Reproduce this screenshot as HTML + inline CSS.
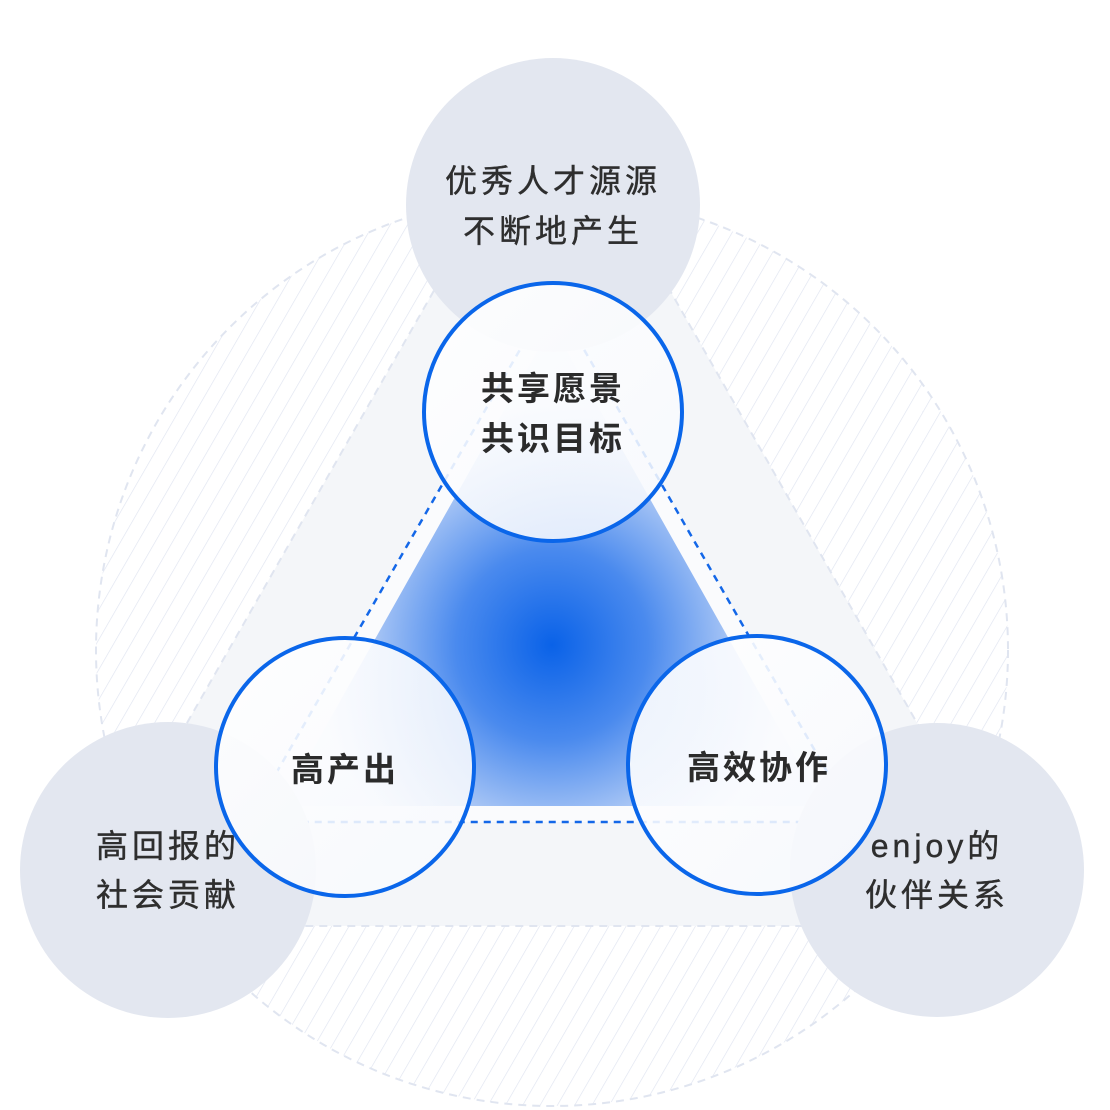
<!DOCTYPE html>
<html><head><meta charset="utf-8"><style>
html,body{margin:0;padding:0;background:#fff;}
svg{display:block}
text{font-family:"Liberation Sans","Noto Sans CJK SC",sans-serif;}
</style></head><body>
<svg width="1110" height="1110" viewBox="0 0 1110 1110" xmlns="http://www.w3.org/2000/svg">
<defs>
<pattern id="hatch" patternUnits="userSpaceOnUse" width="15" height="15" patternTransform="rotate(30)">
<line x1="0" y1="0" x2="0" y2="15" stroke="#dfe4f0" stroke-width="1.3"/>
</pattern>
<clipPath id="bigc"><circle cx="552" cy="650" r="456"/></clipPath>
<radialGradient id="blue" cx="552" cy="645" r="240" gradientUnits="userSpaceOnUse">
<stop offset="0" stop-color="#0a62e8"/>
<stop offset="0.4" stop-color="#4a8aee"/>
<stop offset="0.75" stop-color="#a9c6f5"/>
<stop offset="1" stop-color="#eef3fc"/>
</radialGradient>
<linearGradient id="cf" x1="0" y1="0" x2="1" y2="1">
<stop offset="0" stop-color="#ffffff" stop-opacity="0.92"/>
<stop offset="1" stop-color="#f7f9fd" stop-opacity="0.85"/>
</linearGradient>
</defs>
<circle cx="552" cy="650" r="456" fill="url(#hatch)"/>
<circle cx="552" cy="650" r="456" fill="none" stroke="#e0e5f0" stroke-width="2" stroke-dasharray="8 6"/>
<g clip-path="url(#bigc)">
<polygon points="552,84 71,926 1033,926" fill="#f4f6f9" stroke="#e0e5f0" stroke-width="2" stroke-dasharray="8 6"/>
</g>
<polygon points="552,294 248,822 856,822" fill="#fafbfd"/>
<polygon points="552,325 281,806 823,806" fill="url(#blue)"/>
<polygon points="552,294 248,822 856,822" fill="none" stroke="#1367e8" stroke-width="2.5" stroke-dasharray="7 6"/>
<circle cx="553" cy="205" r="147" fill="#e3e7f0"/>
<circle cx="168" cy="870" r="148" fill="#e3e7f0"/>
<circle cx="937" cy="870" r="147" fill="#e3e7f0"/>
<g font-size="32" fill="#2e2e2e" text-anchor="middle" letter-spacing="4" stroke="#2e2e2e" stroke-width="0.4">
<text x="553" y="192">优秀人才源源</text>
<text x="553" y="242">不断地产生</text>
<text x="168" y="857">高回报的</text>
<text x="168" y="906">社会贡献</text>
<text x="937" y="857">enjoy的</text>
<text x="937" y="906">伙伴关系</text>
</g>
<circle cx="553" cy="412" r="129" fill="url(#cf)" stroke="#0a66ea" stroke-width="4"/>
<circle cx="345" cy="767" r="129" fill="url(#cf)" stroke="#0a66ea" stroke-width="4"/>
<circle cx="757" cy="765" r="129" fill="url(#cf)" stroke="#0a66ea" stroke-width="4"/>
<g font-size="33" font-weight="bold" fill="#2b2b2b" text-anchor="middle" letter-spacing="3">
<text x="553" y="400">共享愿景</text>
<text x="553" y="450">共识目标</text>
<text x="345" y="781">高产出</text>
<text x="759" y="779">高效协作</text>
</g>
</svg>
</body></html>
